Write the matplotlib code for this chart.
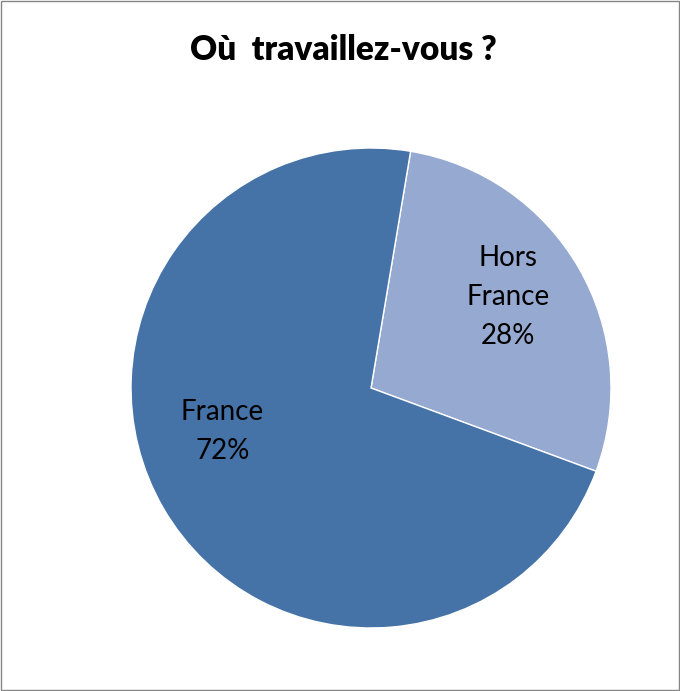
import matplotlib
matplotlib.use('Agg')
import matplotlib.pyplot as plt
from matplotlib.patches import Rectangle

plt.rcParams['font.family'] = ['Lato', 'DejaVu Sans']

# données
categories = ['Hors\nFrance', 'France']
values = [28, 72]
colors = ['#95A9D1', '#4573A7']
title = 'Où  travaillez-vous ?'

fig = plt.figure(figsize=(6.8, 6.91), dpi=100)
ax = fig.add_axes([0.1926, 0.0912, 0.706, 0.6946])

wedges, _ = ax.pie(values, colors=colors, startangle=80.5, counterclock=False,
                   radius=1, wedgeprops=dict(linewidth=1, edgecolor='white'))
ax.set_xlim(-1, 1)
ax.set_ylim(-1, 1)
ax.set_aspect('equal')

# étiquettes
label_pos = [(0.57, 0.378), (-0.62, -0.183)]
for cat, v, (x, y) in zip(categories, values, label_pos):
    ax.text(x, y, f'{cat}\n{v}%', ha='center', va='center', fontsize=20,
            linespacing=1.62, color='black')

fig.text(0.505, 0.9276, title, ha='center', va='center', fontsize=24, fontweight='heavy')

# cadre
fig.patches.append(Rectangle((0.002, 0.002), 0.996, 0.996, transform=fig.transFigure,
                             fill=False, edgecolor='#868686', linewidth=1))

fig.savefig('out.png', dpi=100)
